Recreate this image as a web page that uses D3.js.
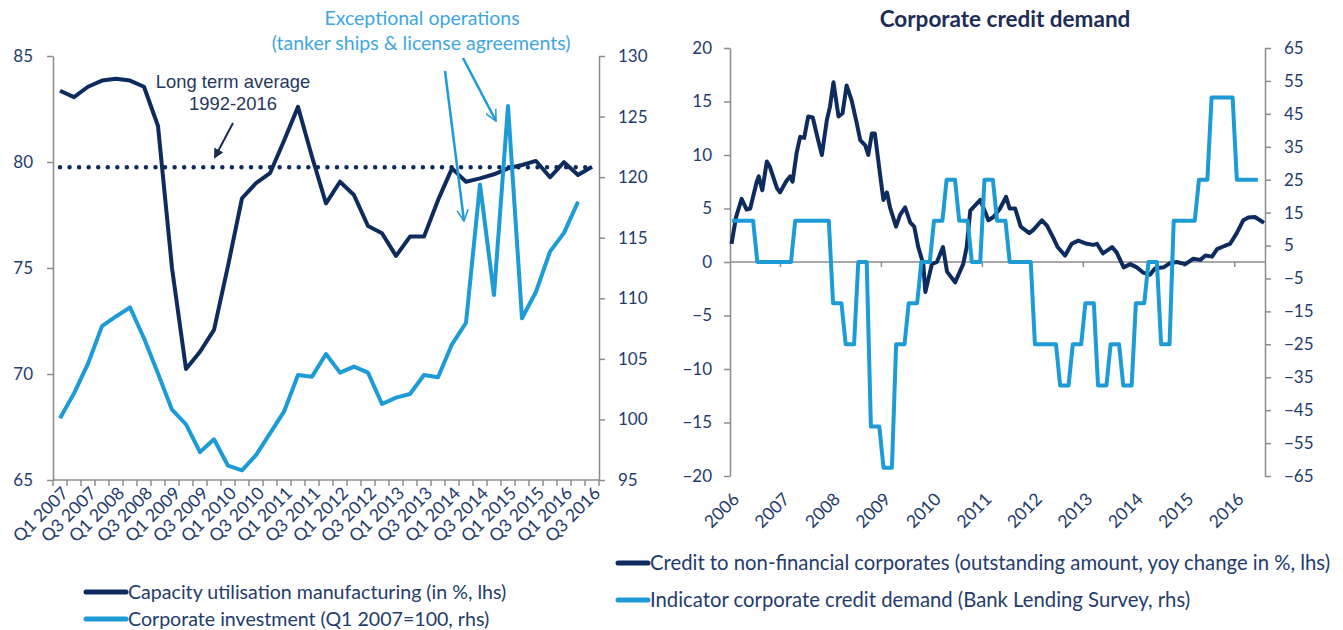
<!DOCTYPE html>
<html>
<head>
<meta charset="utf-8">
<script src="https://cdn.jsdelivr.net/npm/d3@7"></script>
<style>
    body { margin: 0; background: #fff; }
    svg { display: block; font-family: Lato, "Open Sans", sans-serif; }
    .axis path, .axis line { stroke: #8c8c8c; stroke-width: 1.5; }
    .axis text { fill: #243c6b; font-size: 17px; font-family: Lato, sans-serif; }
</style>
</head>
<body>
<svg id="chart" width="1343" height="630"></svg>
<script>
// ---- left chart data ----
const quarters = [
    "Q1 2007", "Q2 2007", "Q3 2007", "Q4 2007", "Q1 2008", "Q2 2008", "Q3 2008", "Q4 2008",
    "Q1 2009", "Q2 2009", "Q3 2009", "Q4 2009", "Q1 2010", "Q2 2010", "Q3 2010", "Q4 2010",
    "Q1 2011", "Q2 2011", "Q3 2011", "Q4 2011", "Q1 2012", "Q2 2012", "Q3 2012", "Q4 2012",
    "Q1 2013", "Q2 2013", "Q3 2013", "Q4 2013", "Q1 2014", "Q2 2014", "Q3 2014", "Q4 2014",
    "Q1 2015", "Q2 2015", "Q3 2015", "Q4 2015", "Q1 2016", "Q2 2016", "Q3 2016"
];
const capacity = [
    83.36, 83.06, 83.55, 83.84, 83.93, 83.84, 83.55, 81.7,
    75.0, 70.24, 71.05, 72.08, 75.1, 78.29, 79.0, 79.47,
    81.0, 82.6, 80.25, 78.05, 79.07, 78.44, 76.98, 76.64,
    75.57, 76.48, 76.48, 78.2, 79.7, 79.07, 79.23, 79.42,
    79.7, 79.86, 80.05, 79.28, 79.99, 79.39, 79.78
];
const investment = [
    100.09, 102.15, 104.6, 107.7, 108.5, 109.25, 106.7, 103.8,
    100.8, 99.6, 97.3, 98.36, 96.18, 95.8, 97.06, 98.85,
    100.64, 103.67, 103.53, 105.4, 103.86, 104.36, 103.86, 101.27,
    101.8, 102.1, 103.67, 103.48, 106.2, 107.98, 119.4, 110.27,
    125.87, 108.35, 110.54, 113.85, 115.4, 117.97
];
const longTermAverage = 79.75;
const capacityTicks = [65, 70, 75, 80, 85];
const investmentTicks = [95, 100, 105, 110, 115, 120, 125, 130];

// ---- right chart data ----
const years = [2006, 2007, 2008, 2009, 2010, 2011, 2012, 2013, 2014, 2015, 2016];
const yearTickMarks = [2007, 2009, 2011, 2013, 2015, 2016];
const creditGrowth = [ // [decimal year, yoy %]
    [2006.03, 1.7], [2006.12, 4.2], [2006.23, 5.9], [2006.33, 4.9], [2006.40, 5.0], [2006.53, 7.5],
    [2006.57, 8.0], [2006.64, 6.7], [2006.73, 9.4], [2006.79, 8.9], [2006.93, 6.9], [2006.99, 6.5],
    [2007.12, 7.6], [2007.19, 8.0], [2007.24, 7.5], [2007.32, 10.2], [2007.39, 11.7], [2007.47, 11.6],
    [2007.55, 13.6], [2007.64, 13.5], [2007.73, 11.7], [2007.82, 10.0], [2007.92, 13.3], [2007.98, 14.5],
    [2008.05, 16.8], [2008.15, 13.6], [2008.23, 13.9], [2008.31, 16.5], [2008.41, 15.1], [2008.51, 13.0],
    [2008.58, 11.4], [2008.68, 10.9], [2008.74, 10.0], [2008.81, 12.0], [2008.87, 12.0], [2008.97, 8.3],
    [2009.04, 5.8], [2009.11, 6.5], [2009.17, 5.1], [2009.29, 3.3], [2009.37, 4.4], [2009.47, 5.1],
    [2009.57, 3.7], [2009.65, 3.3], [2009.73, 1.4], [2009.83, -0.2], [2009.87, -2.8], [2010.00, -0.2],
    [2010.10, 0.0], [2010.22, 1.4], [2010.30, -0.9], [2010.46, -1.9], [2010.62, -0.2], [2010.69, 1.4],
    [2010.76, 4.8], [2010.82, 5.1], [2010.96, 5.8], [2011.12, 3.9], [2011.22, 4.2], [2011.35, 5.0],
    [2011.47, 6.1], [2011.54, 5.0], [2011.65, 5.0], [2011.76, 3.3], [2011.93, 2.7], [2012.01, 3.0],
    [2012.18, 3.9], [2012.28, 3.4], [2012.41, 2.2], [2012.49, 1.4], [2012.64, 0.6], [2012.77, 1.7],
    [2012.90, 2.0], [2013.07, 1.7], [2013.20, 1.6], [2013.27, 1.7], [2013.39, 0.8], [2013.57, 1.4],
    [2013.66, 0.9], [2013.73, 0.2], [2013.80, -0.5], [2013.93, -0.2], [2014.06, -0.5], [2014.19, -1.0],
    [2014.32, -1.2], [2014.42, -0.6], [2014.59, -0.5], [2014.72, -0.1], [2014.85, 0.0], [2015.02, -0.2],
    [2015.18, 0.3], [2015.32, 0.2], [2015.42, 0.6], [2015.55, 0.5], [2015.65, 1.2], [2015.75, 1.4],
    [2015.85, 1.6], [2015.91, 1.7], [2016.04, 2.7], [2016.17, 3.9], [2016.27, 4.15], [2016.40, 4.2],
    [2016.50, 3.9], [2016.58, 3.65]
];
// Bank Lending Survey indicator, quarterly from Q1 2006
const creditDemand = [
    12.5, 12.5, 0, 0, 0, 12.5, 12.5, 12.5,
    -12.5, -25, 0, -50, -62.5, -25, -12.5, 0,
    12.5, 25, 12.5, 0, 25, 12.5, 0, 0,
    -25, -25, -37.5, -25, -12.5, -37.5, -25, -37.5,
    -12.5, 0, -25, 12.5, 12.5, 25, 50, 50,
    25, 25
];
const lhsTicks = [-20, -15, -10, -5, 0, 5, 10, 15, 20];
const rhsTicks = [-65, -55, -45, -35, -25, -15, -5, 5, 15, 25, 35, 45, 55, 65];

const DARK = "#0d2b5c";
const LIGHT = "#1c9bd7";
const NAVY_TEXT = "#243c6b";

const svg = d3.select("#chart");

const defs = svg.append("defs");
defs.append("marker")
    .attr("id", "headDark")
    .attr("viewBox", "0 0 10 10")
    .attr("refX", 8).attr("refY", 5)
    .attr("markerWidth", 5).attr("markerHeight", 5)
    .attr("orient", "auto")
    .append("path").attr("d", "M0,0 L10,5 L0,10 z").attr("fill", "#1c2c50");
defs.append("marker")
    .attr("id", "headLight")
    .attr("viewBox", "0 0 10 10")
    .attr("refX", 9).attr("refY", 5)
    .attr("markerWidth", 5).attr("markerHeight", 5)
    .attr("markerUnits", "strokeWidth")
    .attr("orient", "auto")
    .append("path").attr("d", "M0,0.5 L9,5 L0,9.5").attr("fill", "none")
    .attr("stroke", LIGHT).attr("stroke-width", 1.2);

function styleAxis(g) {
    g.attr("class", "axis");
}

// ================= LEFT CHART =================
function drawLeft() {
    const x = d3.scaleBand().domain(quarters).range([53, 599]);
    const yL = d3.scaleLinear().domain([65, 85]).range([480, 56]);
    const yR = d3.scaleLinear().domain([95, 130]).range([480, 56]);
    const cx = q => x(q) + x.bandwidth() / 2;

    const g = svg.append("g");

    g.append("g")
        .attr("transform", "translate(53,0)")
        .call(d3.axisLeft(yL).tickValues(capacityTicks).tickSize(6).tickSizeOuter(0).tickPadding(14))
        .call(styleAxis);

    g.append("g")
        .attr("transform", "translate(599,0)")
        .call(d3.axisRight(yR).tickValues(investmentTicks).tickSize(6).tickSizeOuter(0).tickPadding(13))
        .call(styleAxis);

    // category axis with ticks on band edges
    const bottom = g.append("g").attr("class", "axis");
    bottom.append("line")
        .attr("x1", 53).attr("x2", 599).attr("y1", 480).attr("y2", 480);
    const edges = quarters.map(q => x(q)).concat([x.range()[1]]);
    bottom.selectAll(".edge").data(edges).enter().append("line")
        .attr("class", "edge")
        .attr("x1", d => d).attr("x2", d => d)
        .attr("y1", 480).attr("y2", 486);
    bottom.selectAll(".qlabel").data(quarters.filter((q, i) => i % 2 === 0)).enter().append("text")
        .attr("class", "qlabel")
        .attr("text-anchor", "end")
        .attr("transform", d => `translate(${cx(d) + 5},${490}) rotate(-45)`)
        .attr("dy", "0.35em")
        .style("font-size", "17.5px")
        .text(d => d);

    // capacity utilisation
    g.append("path")
        .datum(capacity)
        .attr("fill", "none")
        .attr("stroke", DARK)
        .attr("stroke-width", 4)
        .attr("stroke-linejoin", "round")
        .attr("d", d3.line().x((d, i) => cx(quarters[i])).y(d => yL(d)));

    // long term average dotted
    g.append("line")
        .attr("x1", cx(quarters[0])).attr("x2", cx(quarters[quarters.length - 1]))
        .attr("y1", yL(longTermAverage)).attr("y2", yL(longTermAverage))
        .attr("stroke", DARK)
        .attr("stroke-width", 4.5)
        .attr("stroke-linecap", "round")
        .attr("stroke-dasharray", "0 9.55");

    // corporate investment
    g.append("path")
        .datum(investment)
        .attr("fill", "none")
        .attr("stroke", LIGHT)
        .attr("stroke-width", 4)
        .attr("stroke-linejoin", "round")
        .attr("d", d3.line().x((d, i) => cx(quarters[i])).y(d => yR(d)));

    // annotations
    g.append("text")
        .attr("x", 233).attr("y", 88)
        .attr("text-anchor", "middle")
        .style("font-family", "'Liberation Sans', Arial, sans-serif")
        .style("font-size", "18.4px")
        .attr("fill", "#263860")
        .text("Long term average");
    g.append("text")
        .attr("x", 233).attr("y", 110)
        .attr("text-anchor", "middle")
        .style("font-family", "'Liberation Sans', Arial, sans-serif")
        .style("font-size", "18.4px")
        .attr("fill", "#263860")
        .text("1992-2016");
    g.append("line")
        .attr("x1", 233).attr("y1", 123).attr("x2", 215).attr("y2", 157)
        .attr("stroke", "#1c2c50").attr("stroke-width", 2)
        .attr("marker-end", "url(#headDark)");

    g.append("text")
        .attr("x", 422).attr("y", 25)
        .attr("text-anchor", "middle")
        .style("font-size", "19.5px")
        .attr("fill", "#3fa7dd")
        .text("Exceptional operations");
    g.append("text")
        .attr("x", 421).attr("y", 50)
        .attr("text-anchor", "middle")
        .style("font-size", "19.5px")
        .attr("fill", "#3fa7dd")
        .text("(tanker ships & license agreements)");

    g.append("line")
        .attr("x1", 445).attr("y1", 71).attr("x2", 464).attr("y2", 221)
        .attr("stroke", LIGHT).attr("stroke-width", 2.5)
        .attr("marker-end", "url(#headLight)");
    g.append("line")
        .attr("x1", 463).attr("y1", 58).attr("x2", 496).attr("y2", 121)
        .attr("stroke", LIGHT).attr("stroke-width", 2.5)
        .attr("marker-end", "url(#headLight)");

    // legend
    const legend = [
        { label: "Capacity utilisation manufacturing (in %, lhs)", color: DARK, y: 592 },
        { label: "Corporate investment (Q1 2007=100, rhs)", color: LIGHT, y: 619 }
    ];
    const lg = g.selectAll(".legL").data(legend).enter().append("g").attr("class", "legL");
    lg.append("line")
        .attr("x1", 86).attr("x2", 126)
        .attr("y1", d => d.y).attr("y2", d => d.y)
        .attr("stroke", d => d.color).attr("stroke-width", 5).attr("stroke-linecap", "round");
    lg.append("text")
        .attr("x", 128).attr("y", d => d.y)
        .attr("dy", "0.35em")
        .style("font-size", "19.6px")
        .attr("fill", NAVY_TEXT)
        .text(d => d.label);
}

// ================= RIGHT CHART =================
function drawRight() {
    const x = d3.scaleLinear().domain([2006, 2016.6]).range([730, 1265]);
    const yL = d3.scaleLinear().domain([-20, 20]).range([476, 48]);
    const yR = d3.scaleLinear().domain([-65, 65]).range([476, 48]);

    const g = svg.append("g");

    g.append("text")
        .attr("x", 1005).attr("y", 27)
        .attr("text-anchor", "middle")
        .style("font-size", "22.5px")
        .style("font-weight", "bold")
        .attr("fill", "#1b2d56")
        .text("Corporate credit demand");

    g.append("g")
        .attr("transform", "translate(730,0)")
        .call(d3.axisLeft(yL).tickValues(lhsTicks).tickSize(6).tickSizeOuter(0).tickPadding(12))
        .call(styleAxis);

    g.append("g")
        .attr("transform", "translate(1265,0)")
        .call(d3.axisRight(yR).tickValues(rhsTicks).tickSize(6).tickSizeOuter(0).tickPadding(13))
        .call(styleAxis);

    // zero line with year ticks
    const zero = g.append("g").attr("class", "axis");
    zero.append("line")
        .attr("x1", 730).attr("x2", 1265).attr("y1", yL(0)).attr("y2", yL(0));
    zero.selectAll(".ytick").data(yearTickMarks).enter().append("line")
        .attr("class", "ytick")
        .attr("x1", d => x(d)).attr("x2", d => x(d))
        .attr("y1", yL(0)).attr("y2", yL(0) + 5);
    zero.selectAll(".ylabel").data(years).enter().append("text")
        .attr("class", "ylabel")
        .attr("text-anchor", "end")
        .attr("transform", d => `translate(${x(d) + 6},${496}) rotate(-45)`)
        .attr("dy", "0.35em")
        .style("font-size", "17.5px")
        .text(d => d);

    // credit growth
    g.append("path")
        .datum(creditGrowth)
        .attr("fill", "none")
        .attr("stroke", DARK)
        .attr("stroke-width", 4)
        .attr("stroke-linejoin", "round")
        .attr("d", d3.line().x(d => x(d[0])).y(d => yL(d[1])));

    // quarterly survey value held over its three months (mid-month points)
    const demandPoints = [];
    creditDemand.forEach((v, k) => {
        demandPoints.push([2006 + (3 * k + 0.5) / 12, v]);
        demandPoints.push([2006 + (3 * k + 2.5) / 12, v]);
    });
    g.append("path")
        .datum(demandPoints)
        .attr("fill", "none")
        .attr("stroke", LIGHT)
        .attr("stroke-width", 4)
        .attr("stroke-linejoin", "round")
        .attr("d", d3.line().x(d => x(d[0])).y(d => yR(d[1])));

    const legend = [
        { label: "Credit to non-financial corporates (outstanding amount, yoy change in %, lhs)", color: DARK, y: 563 },
        { label: "Indicator corporate credit demand (Bank Lending Survey, rhs)", color: LIGHT, y: 600 }
    ];
    const lg = g.selectAll(".legR").data(legend).enter().append("g").attr("class", "legR");
    lg.append("line")
        .attr("x1", 618).attr("x2", 648)
        .attr("y1", d => d.y).attr("y2", d => d.y)
        .attr("stroke", d => d.color).attr("stroke-width", 5).attr("stroke-linecap", "round");
    lg.append("text")
        .attr("x", 650).attr("y", d => d.y)
        .attr("dy", "0.35em")
        .style("font-size", "20.3px")
        .attr("fill", NAVY_TEXT)
        .text(d => d.label);
}

drawLeft();
drawRight();
</script>
</body>
</html>
